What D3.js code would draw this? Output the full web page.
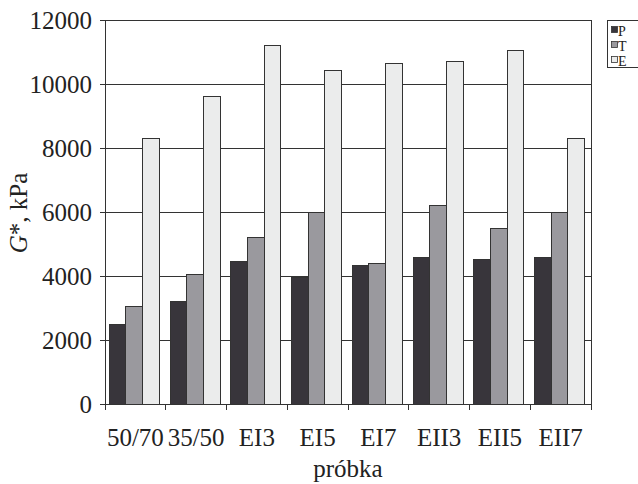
<!DOCTYPE html>
<html><head><meta charset="utf-8">
<script src="https://cdn.jsdelivr.net/npm/d3@7"></script>
<style>body{margin:0;background:#fff}svg{display:block}text{font-family:"Liberation Serif","Times New Roman",serif;fill:#222}</style>
</head><body>
<svg id="c" width="638" height="484"></svg>
<script>
const categories = ["50/70","35/50","EI3","EI5","EI7","EII3","EII5","EII7"];
const seriesNames = ["P","T","E"];
const valuesP = [2480,3190,4450,3950,4330,4580,4520,4590];
const valuesT = [3050,4050,5210,6000,4400,6190,5480,6000];
const valuesE = [8310,9600,11200,10420,10630,10690,11060,8310];
const yTicks = [0,2000,4000,6000,8000,10000,12000];
const colors = ["#38353b","#9a999e","#ebecec"];

const series = [valuesP, valuesT, valuesE];
const svg = d3.select("#c");
const m = {l:105, r:591, t:20, b:404};
const FS = "25px";

const x = d3.scaleBand().domain(categories).range([m.l, m.r]).paddingInner(0).paddingOuter(0);
const xs = d3.scaleBand().domain(seriesNames).range([0, x.bandwidth()]).paddingInner(0).paddingOuter(0.32).align(0.4);
const y = d3.scaleLinear().domain([0,12000]).range([m.b, m.t]);

// gridlines
svg.append("g").selectAll("line").data(yTicks.filter(d=>d>0)).join("line")
  .attr("x1", m.l).attr("x2", m.r).attr("y1", d=>y(d)).attr("y2", d=>y(d))
  .attr("stroke", "#333").attr("stroke-width", 1).attr("shape-rendering","crispEdges");
// right border
svg.append("line").attr("x1", m.r).attr("x2", m.r).attr("y1", m.t).attr("y2", m.b)
  .attr("stroke","#333").attr("shape-rendering","crispEdges");

// bars
const g = svg.append("g");
categories.forEach((c, i) => {
  seriesNames.forEach((s, j) => {
    const v = series[j][i];
    g.append("rect")
      .attr("x", x(c) + xs(s)).attr("width", xs.bandwidth())
      .attr("y", y(v)).attr("height", y(0) - y(v))
      .attr("fill", colors[j]).attr("stroke", "#333").attr("stroke-width", 1)
      .attr("shape-rendering","crispEdges");
  });
});

// y axis
const ya = svg.append("g").attr("transform", `translate(${m.l},0)`)
  .call(d3.axisLeft(y).tickValues(yTicks).tickSize(5).tickPadding(8).tickFormat(d3.format("d")));
ya.attr("font-size", null).attr("font-family", null);
ya.select(".domain").attr("stroke","#333");
ya.selectAll(".tick line").attr("stroke","#333");
ya.selectAll("text").style("font-size",FS).attr("fill","#222");

// x axis with ticks at group boundaries
svg.append("line").attr("x1", m.l).attr("x2", m.r).attr("y1", m.b).attr("y2", m.b)
  .attr("stroke","#333").attr("shape-rendering","crispEdges");
const bounds = categories.map(c => x(c)).concat([m.r]);
svg.append("g").selectAll("line").data(bounds).join("line")
  .attr("x1", d=>d).attr("x2", d=>d).attr("y1", m.b).attr("y2", m.b+6)
  .attr("stroke","#333").attr("shape-rendering","crispEdges");
svg.append("g").selectAll("text").data(categories).join("text")
  .attr("x", d => x(d) + x.bandwidth()/2).attr("y", 446)
  .attr("text-anchor","middle").style("font-size",FS).text(d=>d);

// axis titles
svg.append("text").attr("x", 348).attr("y", 477).attr("text-anchor","middle")
  .style("font-size",FS).text("próbka");
const yl = svg.append("text").attr("transform","translate(27,213) rotate(-90)")
  .attr("text-anchor","middle").style("font-size",FS);
yl.append("tspan").style("font-style","italic").text("G");
yl.append("tspan").text("*, kPa");

// legend
const lg = svg.append("g");
lg.append("rect").attr("x", 607.5).attr("y", 20.5).attr("width", 40).attr("height", 47)
  .attr("fill","#fff").attr("stroke","#333");
seriesNames.forEach((s, j) => {
  const cy = 30 + j*15;
  lg.append("rect").attr("x", 611.5).attr("y", cy-3.5).attr("width", 6).attr("height", 6)
    .attr("fill", colors[j]).attr("stroke","#333").attr("stroke-width",0.8);
  lg.append("text").attr("x", 618).attr("y", cy+5.5).style("font-size","14px").text(s);
});
</script>
</body></html>
